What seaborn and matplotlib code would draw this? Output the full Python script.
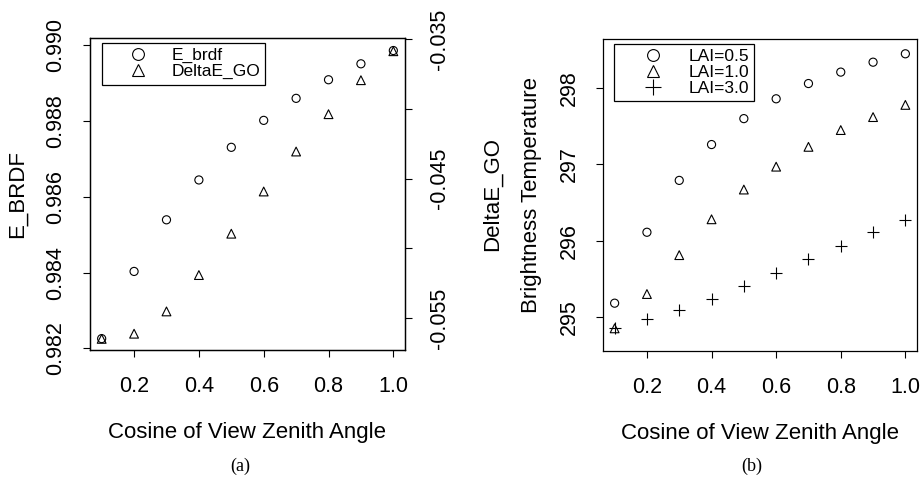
import numpy as np
import pandas as pd
import matplotlib
matplotlib.use("Agg")
import matplotlib.pyplot as plt
import seaborn as sns
from matplotlib.lines import Line2D

# cosine of view zenith angle
mu = [0.1, 0.2, 0.3, 0.4, 0.5, 0.6, 0.7, 0.8, 0.9, 1.0]

# (a) emissivity
e_brdf = [0.98226, 0.98403, 0.98539, 0.98644, 0.98730,
          0.98801, 0.98859, 0.98908, 0.98950, 0.98985]
delta_e_go = [-0.0565, -0.05613, -0.05453, -0.05192, -0.04895,
              -0.04592, -0.04305, -0.04037, -0.03793, -0.03585]

# (b) brightness temperature
lai_05 = [295.18, 296.11, 296.79, 297.26, 297.60, 297.86, 298.06, 298.21, 298.34, 298.45]
lai_10 = [294.85, 295.30, 295.81, 296.28, 296.67, 296.97, 297.23, 297.45, 297.62, 297.78]
lai_30 = [294.85, 294.97, 295.09, 295.24, 295.40, 295.57, 295.76, 295.93, 296.11, 296.27]

sns.set_style("ticks")
plt.rcParams.update({
    "font.family": ["Liberation Sans", "DejaVu Sans"],
    "text.color": "black",
    "axes.labelcolor": "black",
    "axes.linewidth": 0.9,
    "xtick.major.width": 0.8,
    "ytick.major.width": 0.8,
    "xtick.major.size": 5,
    "ytick.major.size": 5,
    "xtick.color": "black",
    "ytick.color": "black",
    "axes.edgecolor": "black",
})

TICK_FS = 15.5
LAB_FS = 16
LEG_FS = 12.5

fig = plt.figure(figsize=(9.22, 4.8), dpi=100)
ax1 = fig.add_axes([90 / 922, 130 / 480, 315 / 922, 312 / 480])
ax3 = fig.add_axes([603 / 922, 129 / 480, 314 / 922, 312 / 480])


def open_points(ax, y, marker, size):
    if marker == "+":
        sns.scatterplot(x=mu, y=y, ax=ax, marker="+", s=size, color="black", linewidth=0.8)
    else:
        sns.scatterplot(x=mu, y=y, ax=ax, marker=marker, s=size,
                        facecolor="none", edgecolor="black", linewidth=0.8)


def style_axes(ax):
    ax.set_xlim(0.064, 1.036)
    ax.set_xticks([0.2, 0.4, 0.6, 0.8, 1.0])
    ax.set_xticklabels(["0.2", "0.4", "0.6", "0.8", "1.0"])
    ax.tick_params(axis="x", labelsize=TICK_FS, pad=14)
    ax.tick_params(axis="y", labelsize=TICK_FS, pad=12, labelrotation=90)
    for lab in ax.get_yticklabels():
        lab.set_va("center")
    ax.set_xlabel("Cosine of View Zenith Angle", fontsize=LAB_FS)
    ax.xaxis.set_label_coords(0.5, -0.23)
    for s in ax.spines.values():
        s.set_visible(True)


def make_legend(ax, handles, labels, x0, hl):
    leg = ax.legend(handles, labels, loc="upper left",
                    bbox_to_anchor=(x0, 0.984), borderaxespad=0, fontsize=LEG_FS,
                    frameon=True, fancybox=False, edgecolor="black", framealpha=1,
                    handlelength=hl, handletextpad=0.1, labelspacing=0.05,
                    borderpad=0.3, handleheight=0.6)
    leg.get_frame().set_linewidth(0.9)
    return leg


# ---- (a)
open_points(ax1, e_brdf, "o", 34)
ax2 = ax1.twinx()
open_points(ax2, delta_e_go, "^", 40)

ax1.set_ylim(0.98196, 0.99018)
ax1.set_yticks([0.982, 0.984, 0.986, 0.988, 0.990])
ax1.set_yticklabels(["0.982", "0.984", "0.986", "0.988", "0.990"])
style_axes(ax1)
ax1.set_ylabel("E_BRDF", fontsize=LAB_FS)
ax1.yaxis.set_label_coords(-0.197, 0.5)

ax2.set_ylim(-0.05730, -0.03490)
ax2.set_yticks([-0.055, -0.050, -0.045, -0.040, -0.035])
ax2.set_yticklabels(["-0.055", "", "-0.045", "", "-0.035"])
ax2.tick_params(axis="y", labelsize=TICK_FS, pad=12, labelrotation=90)
for lab in ax2.get_yticklabels():
    lab.set_va("center")
ax2.set_ylabel("DeltaE_GO", fontsize=LAB_FS)
ax2.yaxis.set_label_coords(1.244, 0.5)

h_a = [Line2D([], [], ls="none", marker="o", ms=8.5, mfc="none", mec="black", mew=0.8),
       Line2D([], [], ls="none", marker="^", ms=8.5, mfc="none", mec="black", mew=0.8)]
make_legend(ax1, h_a, ["E_brdf", "DeltaE_GO"], 0.038, 3.6)

# ---- (b)
open_points(ax3, lai_05, "o", 34)
open_points(ax3, lai_10, "^", 40)
open_points(ax3, lai_30, "+", 70)
ax3.set_ylim(294.553, 298.644)
ax3.set_yticks([295, 296, 297, 298])
ax3.set_yticklabels(["295", "296", "297", "298"])
style_axes(ax3)
ax3.set_ylabel("Brightness Temperature", fontsize=LAB_FS)
ax3.yaxis.set_label_coords(-0.194, 0.5)

h_b = [Line2D([], [], ls="none", marker="o", ms=8.5, mfc="none", mec="black", mew=0.8),
       Line2D([], [], ls="none", marker="^", ms=8.5, mfc="none", mec="black", mew=0.8),
       Line2D([], [], ls="none", marker="+", ms=11, mec="black", mew=0.8)]
make_legend(ax3, h_b, ["LAI=0.5", "LAI=1.0", "LAI=3.0"], 0.035, 3.9)

fig.text(240 / 922, 1 - 466 / 480, "(a)", ha="center", va="center",
         fontsize=13, family=["Liberation Serif", "DejaVu Serif"])
fig.text(752 / 922, 1 - 466 / 480, "(b)", ha="center", va="center",
         fontsize=13, family=["Liberation Serif", "DejaVu Serif"])

fig.savefig("out.png", dpi=100)
